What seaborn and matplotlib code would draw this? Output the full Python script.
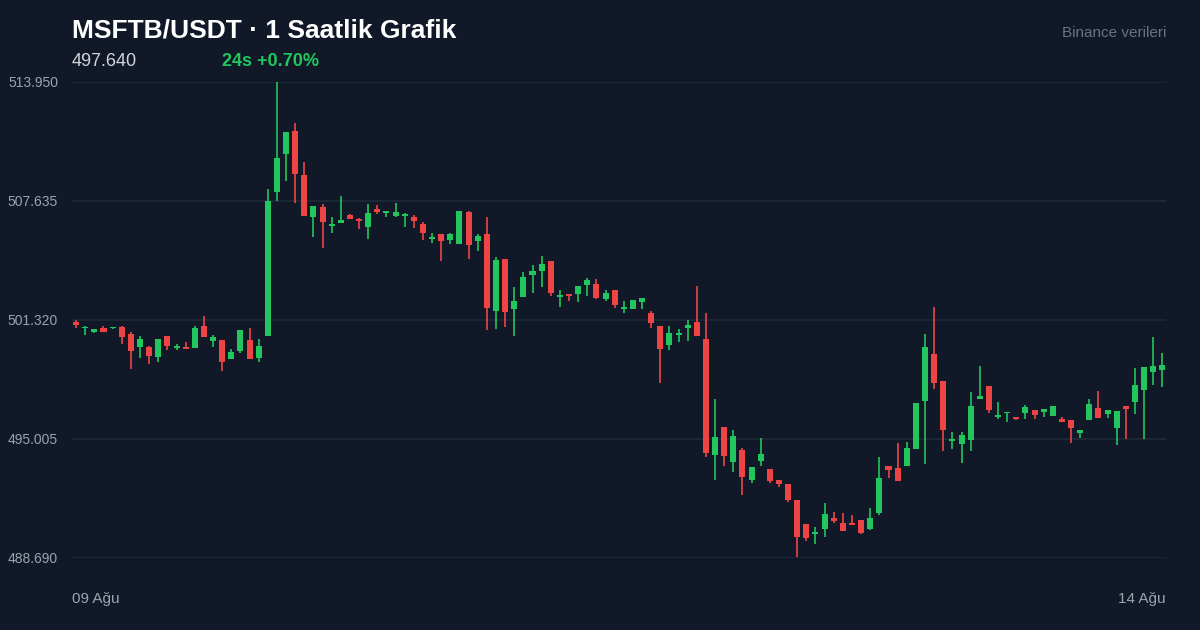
import matplotlib
matplotlib.use("Agg")
import matplotlib.pyplot as plt
import seaborn as sns
import numpy as np
import pandas as pd

opens = [501.21,500.89,500.68,500.89,500.87,500.95,500.57,499.88,499.88,499.35,
         500.47,499.86,499.88,499.83,501.00,500.20,500.26,499.25,499.67,500.26,
         499.30,500.47,508.11,510.13,511.35,509.01,506.78,507.31,506.31,506.47,
         506.89,506.68,506.25,507.21,507.00,506.84,506.86,506.78,506.41,505.62,
         505.88,505.56,505.35,507.05,505.51,505.88,501.79,504.55,501.90,502.54,
         503.71,503.92,504.45,502.54,502.70,502.70,503.17,503.23,502.43,502.91,
         501.90,501.90,502.27,501.69,501.00,499.99,500.52,500.89,501.21,500.31,
         494.15,495.64,493.78,494.42,492.83,493.84,493.41,492.83,492.61,491.77,
         490.49,489.96,490.23,490.81,490.54,490.54,490.70,490.23,491.08,493.57,
         493.46,493.57,494.47,497.02,499.51,498.08,494.90,494.74,494.95,497.13,
         497.82,496.17,496.38,496.17,496.38,496.54,496.44,496.22,496.06,496.01,
         495.32,496.01,496.65,496.33,495.59,496.75,496.97,497.60,498.56,498.66]
closes = [501.05,500.95,500.84,500.68,500.89,500.42,499.67,500.31,499.41,500.31,
          499.94,499.91,499.80,500.89,500.42,500.42,499.09,499.62,500.79,499.25,
          499.94,507.63,509.91,511.29,509.07,506.84,507.37,506.52,506.41,506.62,
          506.68,506.57,507.00,507.05,507.10,507.05,506.92,506.57,505.93,505.72,
          505.51,505.88,507.10,505.30,505.78,501.95,504.50,501.74,502.33,503.60,
          503.92,504.29,502.75,502.64,502.62,503.12,503.44,502.49,502.75,502.11,
          502.01,502.38,502.49,501.16,499.78,500.63,500.63,501.05,500.47,494.26,
          495.11,494.10,495.16,492.99,493.52,494.21,492.77,492.61,491.77,489.80,
          489.75,490.07,491.02,490.65,490.12,490.44,490.01,490.81,492.93,493.36,
          492.77,494.52,496.91,499.88,497.97,495.48,495.00,495.21,496.75,497.28,
          496.54,496.28,496.44,496.06,496.70,496.28,496.59,496.75,495.90,495.59,
          495.48,496.86,496.12,496.54,496.49,496.59,497.87,498.82,498.88,498.93]
highs = [501.32,501.00,500.84,501.00,500.92,501.00,500.68,500.47,499.94,500.31,
         500.47,500.04,500.15,501.00,501.53,500.52,500.26,499.78,500.79,500.89,
         500.31,508.27,513.95,511.29,511.77,509.70,507.37,507.47,506.78,507.90,
         506.94,506.73,507.47,507.42,507.10,507.53,507.00,506.89,506.52,505.93,
         505.88,505.93,507.10,507.10,505.88,506.78,504.66,504.55,503.07,503.87,
         504.24,504.71,504.45,502.91,502.70,503.12,503.55,503.49,502.91,502.91,
         502.33,502.38,502.49,501.79,501.00,501.00,500.84,501.32,503.12,501.69,
         497.13,495.64,495.48,494.52,493.52,495.06,493.41,492.83,492.61,491.77,
         490.49,490.33,491.61,491.13,491.08,490.97,490.70,491.34,494.05,493.57,
         494.79,494.84,496.91,500.57,502.01,498.08,495.37,495.37,497.50,498.88,
         497.82,496.97,496.44,496.17,496.81,496.54,496.59,496.75,496.17,496.01,
         495.48,497.13,497.55,496.54,496.49,496.75,498.77,498.82,500.42,499.57]
lows = [500.89,500.52,500.63,500.68,500.84,500.04,498.72,499.30,498.98,499.09,
        499.73,499.73,499.78,499.83,500.42,499.88,498.61,499.25,499.57,499.25,
        499.09,500.47,507.63,508.69,507.53,506.84,505.72,505.14,505.93,506.47,
        506.68,506.15,505.62,506.94,506.78,506.78,506.25,506.20,505.56,505.40,
        504.45,505.35,505.35,504.55,504.98,500.79,500.84,500.95,500.47,502.54,
        502.75,503.07,502.59,502.01,502.33,502.27,502.59,502.43,502.33,501.95,
        501.69,501.90,501.90,500.89,497.97,499.73,500.15,500.20,500.47,494.05,
        492.83,493.57,493.25,492.03,492.67,493.57,492.67,492.45,491.66,488.74,
        489.59,489.43,489.80,490.54,490.12,490.44,489.96,490.17,490.97,492.93,
        492.77,493.57,494.47,493.68,497.66,494.37,494.47,493.73,494.37,497.13,
        496.38,496.06,495.90,496.01,496.06,496.06,496.17,496.22,495.90,494.79,
        495.06,496.01,496.12,496.12,494.68,495.00,496.33,495.00,497.87,497.76]

y_ticks = [488.690, 495.005, 501.320, 507.635, 513.950]
x_labels = ["09 Ağu", "14 Ağu"]
title = "MSFTB/USDT · 1 Saatlik Grafik"
last_price = "497.640"
change = "24s +0.70%"
source = "Binance verileri"

BG = "#111827"
GREEN = "#22c55e"
RED = "#ef4444"

sns.set_theme(style="dark", rc={"axes.facecolor": BG, "figure.facecolor": BG})
plt.rcParams['font.family'] = ['Liberation Sans', 'DejaVu Sans']

df = pd.DataFrame({"o": opens, "c": closes, "h": highs, "l": lows})
df["i"] = np.arange(len(df))
df["up"] = df["c"] >= df["o"]
df["col"] = np.where(df["up"], GREEN, RED)

fig = plt.figure(figsize=(12, 6.3), dpi=100)
ax = fig.add_axes([72/1200, 1-558/630, (1166-72)/1200, 476/630])
ax.set_facecolor(BG)

for y in y_ticks:
    ax.axhline(y, color="#1f2937", lw=1.2, zorder=0)

ax.vlines(df["i"], df["l"], df["h"], colors=df["col"], lw=1.2, zorder=2)
bottoms = np.minimum(df["o"], df["c"])
heights = np.maximum(np.abs(df["c"] - df["o"]), 0.08)
ax.bar(df["i"], heights, bottom=bottoms, width=0.66, color=df["col"], zorder=3, linewidth=0)

ax.set_xlim(-0.45, 119.4)
ax.set_ylim(488.69, 513.95)
ax.set_yticks(y_ticks)
ax.set_yticklabels([f"{v:.3f}" for v in y_ticks])
ax.tick_params(axis="y", colors="#9ca3af", labelsize=10, length=0, pad=10)
ax.set_xticks([])
ax.grid(False)
for s in ax.spines.values():
    s.set_visible(False)

fig.text(72/1200, 1-30/630, title, color="white", fontsize=19, fontweight="bold", va="center")
fig.text(72/1200, 1-61/630, last_price, color="#d1d5db", fontsize=13, va="center")
fig.text(222/1200, 1-61/630, change, color=GREEN, fontsize=13, fontweight="bold", va="center")
fig.text(1166/1200, 1-33/630, source, color="#6b7280", fontsize=11, va="center", ha="right")
fig.text(72/1200, 1-599/630, x_labels[0], color="#9ca3af", fontsize=11, va="center")
fig.text(1166/1200, 1-599/630, x_labels[1], color="#9ca3af", fontsize=11, va="center", ha="right")

fig.savefig("out.png", dpi=100, facecolor=BG)
